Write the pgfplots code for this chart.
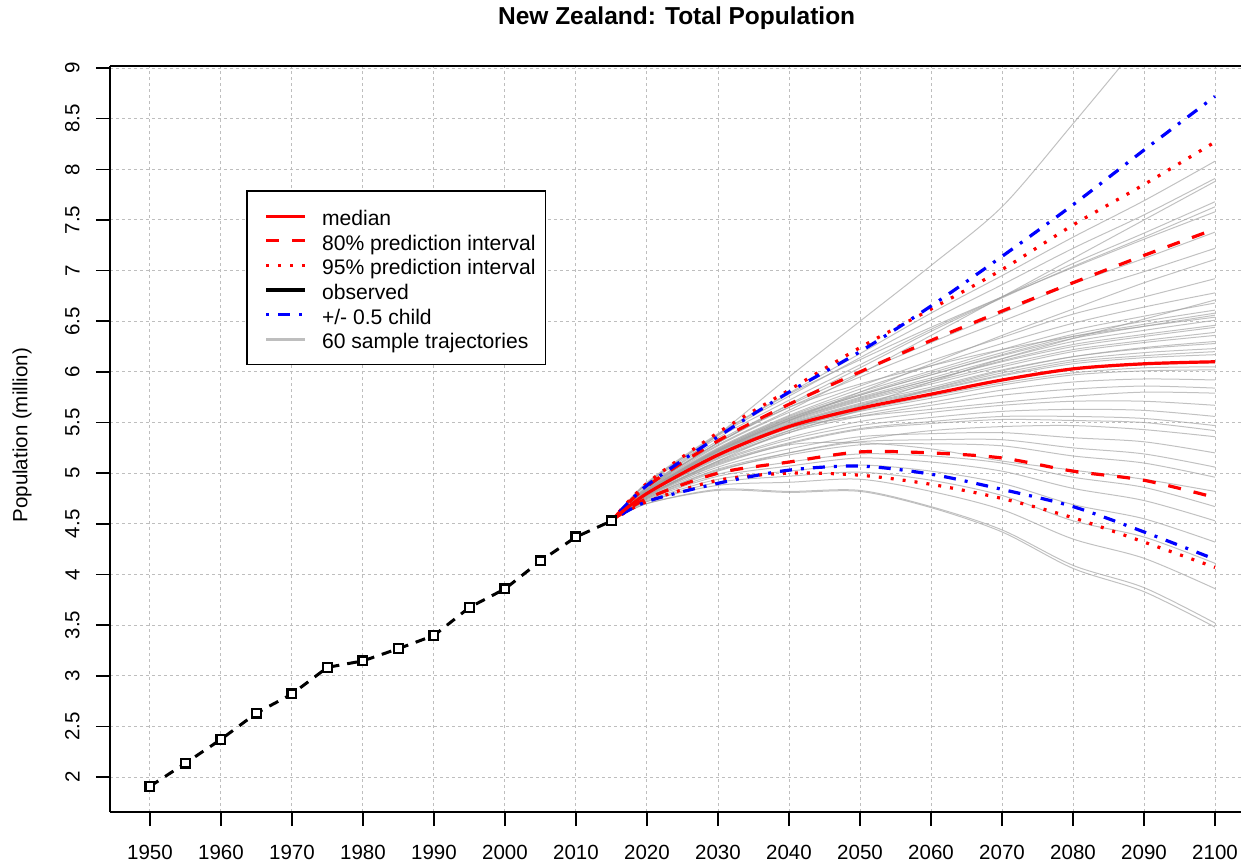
\documentclass[border=0pt]{standalone}
\usepackage{fontspec}
\setmainfont{Liberation Sans}
\usepackage{pgfplots}
\pgfplotsset{compat=1.18}
\definecolor{gridgray}{RGB}{190,190,190}
\definecolor{trajgray}{RGB}{160,160,160}
\definecolor{leggray}{RGB}{190,190,190}
\newcommand{\fs}{\fontsize{10.25bp}{12.4bp}\selectfont}
\newcommand{\lfs}{\fontsize{10.55bp}{12.4bp}\selectfont}
\newcommand{\traj}[9]{\addplot[trajgray, draw opacity=0.65, line width=0.5bp, smooth, forget plot] coordinates {(2015,4.53)(2020,#1)(2030,#2)(2040,#3)(2050,#4)(2060,#5)(2070,#6)(2080,#7)(2090,#8)(2100,#9)};}
\begin{document}
\begin{tikzpicture}
\path[use as bounding box] (-55bp,-24.5bp) rectangle (565.5bp,406bp);
\begin{axis}[
  name=ax, at={(0,0)}, anchor=south west, scale only axis,
  width=565.5bp, height=373bp,
  xmin=1944.37, xmax=2103.66, ymin=1.655, ymax=9.02,
  axis lines=left, axis line style={-, line width=0.8bp},
  xtick={1950,1960,...,2100},
  ytick={2,2.5,3,3.5,4,4.5,5,5.5,6,6.5,7,7.5,8,8.5,9},
  tick align=outside, major tick length=7bp,
  tick style={black, line width=0.8bp},
  grid=major, grid style={gridgray, line width=0.5bp, dash pattern=on 1.5bp off 1.5bp},
  /pgf/number format/assume math mode=true,
  /pgf/number format/1000 sep={},
  ticklabel style={font=\fs},
  xticklabel style={anchor=north, inner sep=0pt, yshift=-9.5bp},
  yticklabel style={xshift=-8bp, rotate=90, anchor=south, inner sep=0pt},
  ylabel={Population (million)},
  every axis y label/.style={at={(axis description cs:-0.0778,0.505)}, rotate=90, anchor=center, font=\fs},
  title={New Zealand: Total Population},
  every axis title/.style={at={(axis description cs:0.501,1.064)}, anchor=center, font=\fontsize{12.25bp}{14bp}\selectfont\bfseries},
  legend style={at={(axis description cs:0.1202,0.8338)}, anchor=north west, draw=black, line width=0.9bp, fill=white, font=\lfs,
    inner xsep=5bp, inner ysep=6.5bp, row sep=0pt,
    nodes={inner ysep=1.4bp, inner xsep=0bp, text height=9.5bp, text depth=0bp},
    /tikz/every odd column/.append style={column sep=7.5bp}},
  legend cell align=left,
  legend image code/.code={\path (0bp,0bp); \draw[#1] (4bp,0bp) -- (23.5bp,0bp);},
]
\addlegendimage{red, line width=1.6bp, solid}
\addlegendentry{median}
\addlegendimage{red, line width=1.6bp, dash pattern=on 6.5bp off 6.5bp}
\addlegendentry{80\% prediction interval}
\addlegendimage{red, line width=1.6bp, dash pattern=on 1.5bp off 4.5bp}
\addlegendentry{95\% prediction interval}
\addlegendimage{black, line width=1.6bp, solid}
\addlegendentry{observed}
\addlegendimage{blue, line width=1.6bp, dash pattern=on 1.5bp off 4.5bp on 6bp off 4.5bp}
\addlegendentry{+/- 0.5 child}
\addlegendimage{leggray, line width=1.6bp, solid}
\addlegendentry{60 sample trajectories}

% sample trajectories
\traj{4.85}{5.38}{5.95}{6.50}{7.05}{7.63}{8.45}{9.30}{10.20}
\traj{4.91}{5.39}{5.79}{6.18}{6.58}{6.95}{7.33}{7.69}{8.08}
\traj{4.90}{5.37}{5.76}{6.14}{6.51}{6.86}{7.22}{7.55}{7.91}
\traj{4.86}{5.28}{5.62}{5.98}{6.36}{6.74}{7.12}{7.50}{7.88}
\traj{4.89}{5.35}{5.72}{6.07}{6.42}{6.74}{7.07}{7.37}{7.68}
\traj{4.85}{5.30}{5.68}{6.04}{6.40}{6.73}{7.04}{7.33}{7.63}
\traj{4.90}{5.38}{5.78}{6.12}{6.44}{6.74}{7.03}{7.31}{7.58}
\traj{4.87}{5.32}{5.67}{5.99}{6.29}{6.58}{6.87}{7.12}{7.38}
\traj{4.86}{5.30}{5.65}{5.95}{6.23}{6.50}{6.77}{6.99}{7.22}
\traj{4.82}{5.22}{5.52}{5.80}{6.08}{6.36}{6.62}{6.88}{7.11}
\traj{4.84}{5.27}{5.60}{5.86}{6.11}{6.34}{6.57}{6.74}{6.92}
\traj{4.84}{5.25}{5.57}{5.83}{6.06}{6.28}{6.48}{6.64}{6.78}
\traj{4.78}{5.12}{5.42}{5.66}{5.90}{6.13}{6.33}{6.52}{6.71}
\traj{4.83}{5.24}{5.56}{5.80}{6.01}{6.22}{6.41}{6.55}{6.68}
\traj{4.83}{5.24}{5.55}{5.78}{5.99}{6.19}{6.37}{6.50}{6.61}
\traj{4.83}{5.23}{5.54}{5.77}{5.97}{6.17}{6.35}{6.47}{6.58}
\traj{4.83}{5.23}{5.54}{5.77}{5.97}{6.16}{6.33}{6.45}{6.56}
\traj{4.84}{5.30}{5.65}{5.88}{6.06}{6.22}{6.35}{6.45}{6.54}
\traj{4.82}{5.22}{5.53}{5.75}{5.94}{6.13}{6.30}{6.41}{6.51}
\traj{4.82}{5.22}{5.52}{5.74}{5.92}{6.11}{6.27}{6.37}{6.46}
\traj{4.82}{5.22}{5.52}{5.73}{5.92}{6.10}{6.25}{6.35}{6.44}
\traj{4.82}{5.21}{5.51}{5.72}{5.90}{6.07}{6.22}{6.31}{6.39}
\traj{4.81}{5.21}{5.50}{5.71}{5.88}{6.05}{6.20}{6.29}{6.36}
\traj{4.79}{5.14}{5.40}{5.62}{5.83}{6.01}{6.15}{6.24}{6.30}
\traj{4.81}{5.20}{5.49}{5.69}{5.85}{6.02}{6.15}{6.23}{6.28}
\traj{4.81}{5.19}{5.48}{5.68}{5.83}{5.99}{6.12}{6.19}{6.23}
\traj{4.81}{5.19}{5.48}{5.67}{5.82}{5.97}{6.10}{6.16}{6.20}
\traj{4.80}{5.19}{5.47}{5.66}{5.81}{5.96}{6.08}{6.14}{6.17}
\traj{4.80}{5.18}{5.46}{5.64}{5.78}{5.91}{6.02}{6.07}{6.09}
\traj{4.80}{5.17}{5.45}{5.62}{5.76}{5.89}{5.99}{6.04}{6.05}
\traj{4.80}{5.17}{5.44}{5.61}{5.74}{5.87}{5.97}{6.01}{6.02}
\traj{4.79}{5.16}{5.42}{5.58}{5.70}{5.82}{5.90}{5.93}{5.92}
\traj{4.79}{5.15}{5.40}{5.56}{5.67}{5.77}{5.83}{5.86}{5.84}
\traj{4.82}{5.22}{5.45}{5.56}{5.63}{5.70}{5.76}{5.80}{5.79}
\traj{4.78}{5.12}{5.35}{5.51}{5.60}{5.67}{5.71}{5.71}{5.67}
\traj{4.78}{5.11}{5.33}{5.47}{5.55}{5.61}{5.63}{5.62}{5.56}
\traj{4.78}{5.10}{5.30}{5.44}{5.51}{5.56}{5.56}{5.54}{5.47}
\traj{4.77}{5.09}{5.29}{5.43}{5.49}{5.53}{5.52}{5.50}{5.42}
\traj{4.75}{5.02}{5.20}{5.33}{5.42}{5.46}{5.47}{5.43}{5.36}
\traj{4.77}{5.06}{5.24}{5.36}{5.39}{5.40}{5.35}{5.31}{5.20}
\traj{4.76}{5.04}{5.20}{5.31}{5.33}{5.33}{5.25}{5.19}{5.06}
\traj{4.76}{5.03}{5.18}{5.28}{5.29}{5.27}{5.17}{5.10}{4.96}
\traj{4.78}{5.08}{5.28}{5.30}{5.24}{5.12}{5.03}{4.94}{4.82}
\traj{4.75}{4.99}{5.11}{5.19}{5.17}{5.10}{4.96}{4.86}{4.67}
\traj{4.74}{4.97}{5.07}{5.15}{5.11}{5.02}{4.85}{4.73}{4.53}
\traj{4.73}{4.94}{5.02}{5.08}{5.02}{4.90}{4.69}{4.55}{4.32}
\traj{4.72}{4.91}{4.97}{5.01}{4.93}{4.78}{4.53}{4.37}{4.11}
\traj{4.72}{4.88}{4.91}{4.94}{4.82}{4.64}{4.35}{4.16}{3.86}
\traj{4.70}{4.84}{4.82}{4.83}{4.67}{4.44}{4.09}{3.87}{3.52}
\traj{4.70}{4.83}{4.81}{4.82}{4.66}{4.42}{4.06}{3.83}{3.48}

% observed
\addplot[black, line width=1.5bp, dash pattern=on 5bp off 4bp, mark=square*, mark size=2.2bp,
  mark options={solid, fill=white, draw=black, line width=1.1bp}, forget plot] coordinates {
(1950,1.908)(1955,2.137)(1960,2.372)(1965,2.632)(1970,2.820)(1975,3.083)(1980,3.147)
(1985,3.268)(1990,3.398)(1995,3.675)(2000,3.858)(2005,4.134)(2010,4.370)(2015,4.529)};

% 95% interval (dotted)
\addplot[red, line width=1.6bp, dash pattern=on 1.5bp off 4.5bp, smooth, forget plot] coordinates {
(2015,4.53)(2020,4.90)(2030,5.40)(2040,5.82)(2050,6.24)(2060,6.62)(2070,7.01)(2080,7.45)(2090,7.85)(2100,8.27)};
\addplot[red, line width=1.6bp, dash pattern=on 1.5bp off 4.5bp, smooth, forget plot] coordinates {
(2015,4.53)(2020,4.72)(2030,4.93)(2040,5.00)(2050,4.98)(2060,4.89)(2070,4.75)(2080,4.56)(2090,4.32)(2100,4.07)};
% 80% interval (dashed)
\addplot[red, line width=1.6bp, dash pattern=on 6.5bp off 6.5bp, smooth, forget plot] coordinates {
(2015,4.53)(2020,4.87)(2030,5.32)(2040,5.68)(2050,6.00)(2060,6.31)(2070,6.60)(2080,6.88)(2090,7.15)(2100,7.41)};
\addplot[red, line width=1.6bp, dash pattern=on 6.5bp off 6.5bp, smooth, forget plot] coordinates {
(2015,4.53)(2020,4.75)(2030,5.00)(2040,5.11)(2050,5.21)(2060,5.20)(2070,5.15)(2080,5.02)(2090,4.93)(2100,4.76)};
% +/- 0.5 child
\addplot[blue, line width=1.6bp, dash pattern=on 1.5bp off 4.5bp on 6bp off 4.5bp, smooth, forget plot] coordinates {
(2015,4.53)(2020,4.88)(2030,5.36)(2040,5.80)(2050,6.20)(2060,6.65)(2070,7.14)(2080,7.65)(2090,8.19)(2100,8.72)};
\addplot[blue, line width=1.6bp, dash pattern=on 1.5bp off 4.5bp on 6bp off 4.5bp, smooth, forget plot] coordinates {
(2015,4.53)(2020,4.72)(2030,4.90)(2040,5.03)(2050,5.07)(2060,4.99)(2070,4.84)(2080,4.67)(2090,4.42)(2100,4.15)};
% median
\addplot[red, line width=1.6bp, solid, smooth, forget plot] coordinates {
(2015,4.53)(2020,4.80)(2030,5.18)(2040,5.46)(2050,5.64)(2060,5.78)(2070,5.92)(2080,6.03)(2090,6.08)(2100,6.10)};
\end{axis}
\draw[black, line width=0.8bp] (ax.north west) -- (ax.north east);
\end{tikzpicture}
\end{document}
